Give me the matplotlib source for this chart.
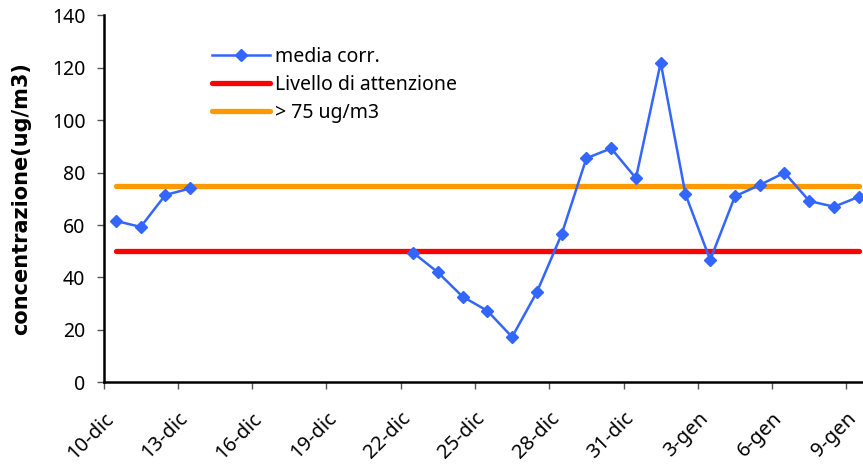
import numpy as np
import matplotlib
matplotlib.use("Agg")
import matplotlib.pyplot as plt

plt.rcParams['font.family'] = ['Noto Sans', 'DejaVu Sans']

days = ['10-dic', '11-dic', '12-dic', '13-dic', '14-dic', '15-dic', '16-dic', '17-dic',
        '18-dic', '19-dic', '20-dic', '21-dic', '22-dic', '23-dic', '24-dic', '25-dic',
        '26-dic', '27-dic', '28-dic', '29-dic', '30-dic', '31-dic', '1-gen', '2-gen',
        '3-gen', '4-gen', '5-gen', '6-gen', '7-gen', '8-gen', '9-gen']
media_corr = [61.6, 59.3, 71.5, 74.0, np.nan, np.nan, np.nan, np.nan,
              np.nan, np.nan, np.nan, np.nan, 49.5, 42.0, 32.7, 27.3,
              17.3, 34.4, 56.5, 85.5, 89.3, 77.9, 122.0, 71.8,
              46.7, 71.0, 75.3, 80.0, 69.2, 67.0, 70.8]
livello_attenzione = [50] * len(days)
soglia_75 = [75] * len(days)
tick_labels = ['10-dic', '13-dic', '16-dic', '19-dic', '22-dic', '25-dic',
               '28-dic', '31-dic', '3-gen', '6-gen', '9-gen']

fig = plt.figure(figsize=(8.63, 4.65), dpi=100)
ax = fig.add_axes([103.5 / 863, 1 - 382.3 / 465, 1 - 103.5 / 863, (382.3 - 15.5) / 465])

x = np.arange(len(days)) + 0.5
l2, = ax.plot(x, livello_attenzione, color='#FF0000', lw=3.8, solid_capstyle='round',
              label='Livello di attenzione', zorder=2)
l3, = ax.plot(x, soglia_75, color='#FF9900', lw=3.8, solid_capstyle='round',
              label='> 75 ug/m3', zorder=2)
l1, = ax.plot(x, media_corr, color='#3366FF', lw=1.8, marker='D', ms=6.3,
              label='media corr.', zorder=3)

ax.set_xlim(0, 30.67)
ax.set_ylim(0, 140)
ax.set_yticks(range(0, 141, 20))
tick_pos = [days.index(t) for t in tick_labels]
ax.set_xticks(tick_pos)
ax.set_xticklabels(tick_labels, rotation=45, ha='right', rotation_mode='anchor')

for s in ['top', 'right']:
    ax.spines[s].set_visible(False)
for s in ['left', 'bottom']:
    ax.spines[s].set_linewidth(1.8)
ax.tick_params(axis='both', labelsize=14, direction='out', length=5, width=1,
               color='#555555')
ax.tick_params(axis='y', pad=8)
ax.tick_params(axis='x', labelsize=14.5, pad=14)

ax.set_ylabel('concentrazione(ug/m3)', fontsize=15, fontweight='bold',
              family='DejaVu Sans', labelpad=15)

leg = ax.legend(handles=[l1, l2, l3], loc='upper left', frameon=False, fontsize=14,
                bbox_to_anchor=(212 / 863, 1 - 47 / 465), bbox_transform=fig.transFigure,
                handlelength=3.0, handletextpad=0.25, labelspacing=0.4,
                borderaxespad=0, borderpad=0)

fig.savefig('out.png', dpi=100)
